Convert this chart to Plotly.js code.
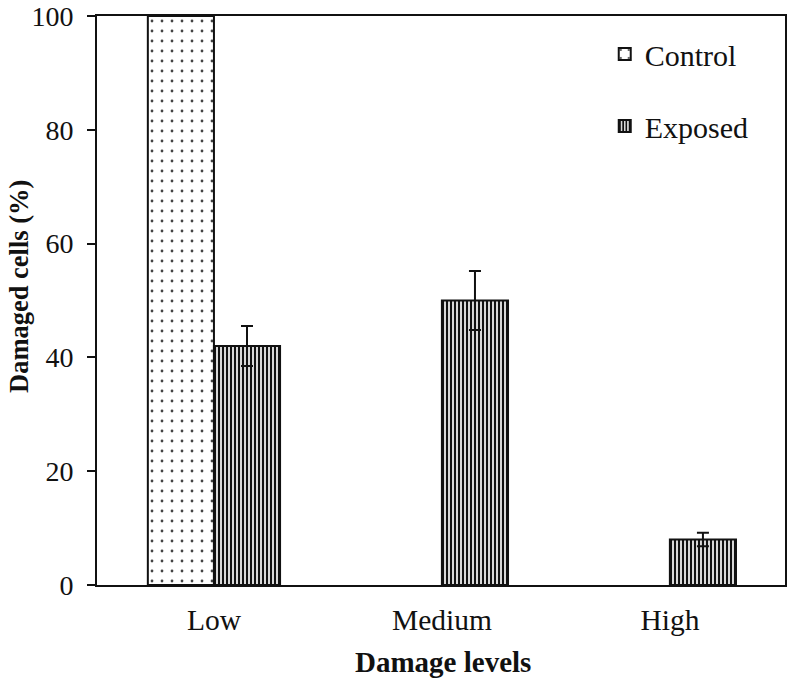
<!DOCTYPE html>
<html>
<head>
<meta charset="utf-8">
<script src="https://cdn.plot.ly/plotly-3.0.1.min.js"></script>
<style>html,body{margin:0;padding:0;background:#fff;}#chart{width:787px;height:681px;}</style>
</head>
<body>
<div id="chart"></div>
<script>
const categories = ["Low", "Medium", "High"];
const controlValues = [100, 0, 0];
const exposedValues = [42, 50, 8];
const exposedErrors = [3.5, 5.2, 1.2];
const yTicks = [0, 20, 40, 60, 80, 100];
const xTitle = "Damage levels";
const yTitle = "Damaged cells (%)";

const FONT = "Liberation Serif, Times New Roman, serif";

const traces = [
  {
    type: "bar", name: "Control", x: categories, y: controlValues,
    legendgroup: "a",
    marker: {
      color: "#ffffff",
      line: {color: "#111", width: [2, 0, 0]},
      pattern: {shape: ".", size: 10, solidity: 0.06, fgcolor: "#444", bgcolor: "#ffffff"}
    }
  },
  {
    type: "bar", name: "Exposed", x: categories, y: exposedValues,
    legendgroup: "b",
    marker: {
      color: "#d8d8d8",
      line: {color: "#111", width: 2},
      pattern: {shape: "|", size: 4, solidity: 0.5, fgcolor: "#111", bgcolor: "#d8d8d8"}
    },
    error_y: {type: "data", array: exposedErrors, visible: true, color: "#111", thickness: 2, width: 6}
  }
];

const layout = {
  width: 787, height: 681,
  margin: {l: 97, r: 2, t: 16, b: 96},
  paper_bgcolor: "#fff", plot_bgcolor: "#fff",
  font: {family: FONT, color: "#111", size: 28},
  barmode: "group", bargap: 0.42, bargroupgap: 0,
  showlegend: true,
  legend: {x: 0.738, y: 0.979, xanchor: "left", yanchor: "top", traceorder: "grouped",
           tracegroupgap: 30, font: {family: FONT, size: 30, color: "#111"},
           bgcolor: "rgba(0,0,0,0)", itemwidth: 30},
  xaxis: {
    range: [-0.513, 2.505], showline: true, mirror: true, linecolor: "#111", linewidth: 2,
    ticks: "", showgrid: false, zeroline: false, ticklabelstandoff: 8,
    tickfont: {family: FONT, size: 29.5, color: "#111"}
  },
  yaxis: {
    range: [0, 100], tickvals: yTicks, ticktext: yTicks.map(String),
    showline: true, mirror: true, linecolor: "#111", linewidth: 2,
    ticks: "outside", ticklen: 8, tickwidth: 2, tickcolor: "#111",
    showgrid: false, zeroline: false, ticklabelstandoff: 8,
    tickfont: {family: FONT, size: 28, color: "#111"}
  },
  annotations: [
    {text: "<b>" + xTitle + "</b>", xref: "paper", yref: "paper",
     x: (443 - 97) / 688, y: -(662 - 585) / 569, xanchor: "center", yanchor: "middle",
     showarrow: false, font: {family: FONT, size: 29, color: "#111"}},
    {text: "<b>" + yTitle + "</b>", xref: "paper", yref: "paper", textangle: -90,
     x: -(97 - 19) / 688, y: (585 - 287) / 569, xanchor: "center", yanchor: "middle",
     showarrow: false, font: {family: FONT, size: 26.5, color: "#111"}}
  ]
};

Plotly.newPlot("chart", traces, layout, {displayModeBar: false, staticPlot: true});
</script>
</body>
</html>
